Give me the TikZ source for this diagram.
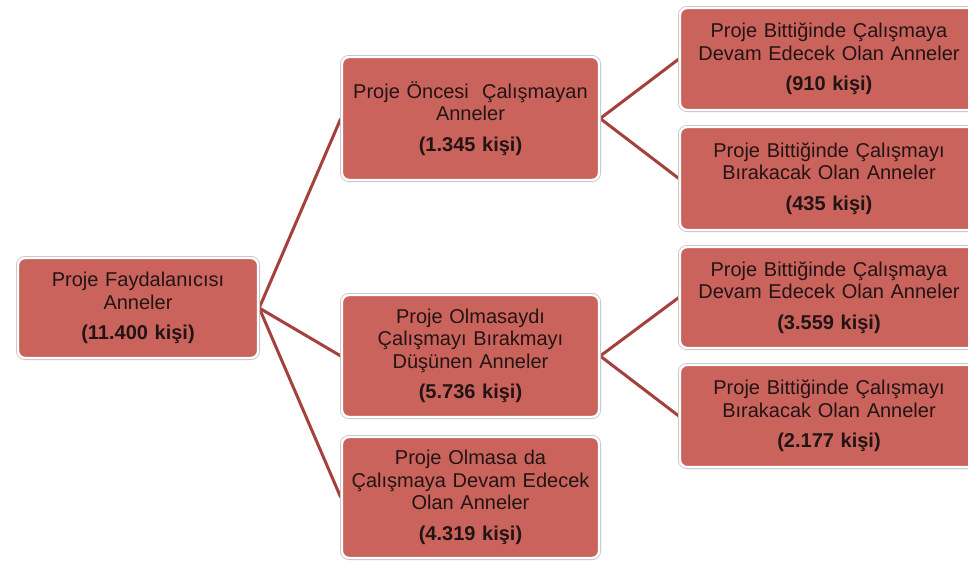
\documentclass[tikz,border=0pt]{standalone}
\usepackage{fontspec}
\setmainfont{Liberation Sans}
\usetikzlibrary{backgrounds}
\definecolor{boxfill}{RGB}{203,99,93}
\definecolor{linkc}{RGB}{165,65,60}
\definecolor{edgec}{RGB}{195,195,195}
\definecolor{txt}{RGB}{35,20,20}
\tikzset{
  box/.style={rectangle, rounded corners=7pt, fill=boxfill, draw=white,
    line width=2.4pt, preaction={draw=edgec, line width=4pt},
    text=txt, align=center, inner sep=0pt,
    font=\fontsize{20}{22.5}\selectfont},
  midbox/.style={box, minimum width=257pt, text width=250pt},
  rightbox/.style={box, minimum width=298pt, text width=290pt},
  link/.style={draw=linkc, line width=3pt}
}
\begin{document}
\begin{tikzpicture}[x=1pt,y=1pt]
\useasboundingbox (0,0) rectangle (968,-560);
\node[box, minimum width=240pt, minimum height=100pt, text width=232pt] (root) at (138,-308)
  {Proje Faydalanıcısı\\Anneler\\[8pt]\textbf{(11.400 kişi)}};
\node[midbox, minimum height=123pt] (m1) at (470.5,-118.5)
  {Proje Öncesi~ Çalışmayan\\Anneler\\[8pt]\textbf{(1.345 kişi)}};
\node[midbox, minimum height=122pt] (m2) at (470.5,-356)
  {Proje Olmasaydı\\Çalışmayı Bırakmayı\\Düşünen Anneler\\[8pt]\textbf{(5.736 kişi)}};
\node[midbox, minimum height=121pt] (m3) at (470.5,-497.5)
  {Proje Olmasa da\\Çalışmaya Devam Edecek\\Olan Anneler\\[8pt]\textbf{(4.319 kişi)}};
\node[rightbox, minimum height=102pt] (r1) at (829,-59)
  {Proje Bittiğinde Çalışmaya\\Devam Edecek Olan Anneler\\[8pt]\textbf{(910 kişi)}};
\node[rightbox, minimum height=103pt] (r2) at (829,-178.5)
  {Proje Bittiğinde Çalışmayı\\Bırakacak Olan Anneler\\[8pt]\textbf{(435 kişi)}};
\node[rightbox, minimum height=101pt] (r3) at (829,-297.5)
  {Proje Bittiğinde Çalışmaya\\Devam Edecek Olan Anneler\\[8pt]\textbf{(3.559 kişi)}};
\node[rightbox, minimum height=102pt] (r4) at (829,-416)
  {Proje Bittiğinde Çalışmayı\\Bırakacak Olan Anneler\\[8pt]\textbf{(2.177 kişi)}};
\begin{scope}[on background layer]
  \fill[white] (0,0) rectangle (968,-560);
  \draw[link] (root.east) -- (m1.west);
  \draw[link] (root.east) -- (m2.west);
  \draw[link] (root.east) -- (m3.west);
  \draw[link] (m1.east) -- (r1.west);
  \draw[link] (m1.east) -- (r2.west);
  \draw[link] (m2.east) -- (r3.west);
  \draw[link] (m2.east) -- (r4.west);
\end{scope}
\end{tikzpicture}
\end{document}
